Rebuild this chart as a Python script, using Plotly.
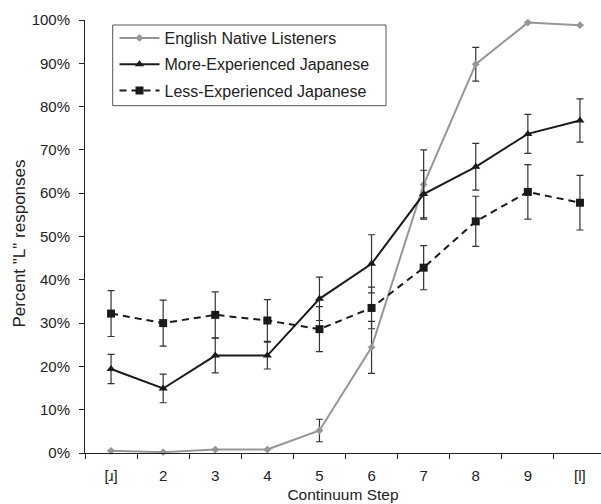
import plotly.graph_objects as go

steps = ["[ɹ]", "2", "3", "4", "5", "6", "7", "8", "9", "[l]"]

english = [0.5, 0.2, 0.8, 0.8, 5.2, 24.4, 62.0, 89.8, 99.4, 98.8]
english_err = [0, 0, 0, 0, 2.6, 6.0, 8.0, 3.9, 0, 0]

more_exp = [19.4, 14.9, 22.5, 22.5, 35.6, 43.7, 59.8, 66.1, 73.7, 76.8]
more_err = [3.4, 3.3, 4.0, 3.1, 5.0, 6.7, 5.5, 5.4, 4.5, 5.0]

less_exp = [32.2, 30.0, 31.9, 30.6, 28.6, 33.5, 42.8, 53.5, 60.3, 57.8]
less_err = [5.3, 5.3, 5.3, 4.8, 5.2, 4.8, 5.1, 5.8, 6.3, 6.3]

font_family = "Liberation Sans, Arial, sans-serif"

W, H = 601, 504
ML, MT, MB = 85, 20, 51
PW = W - ML
PH = H - MT - MB
STEP_PX = 52.1


def px_x(p):
    return (p - ML) / PW


def px_y(p):
    return (H - MB - p) / PH


xpos = list(range(len(steps)))

fig = go.Figure()


def add(name, vals, errs, color, symbol, msize, dash):
    fig.add_trace(go.Scatter(
        x=xpos, y=[v / 100 for v in vals], name=name, mode="lines+markers",
        legendgroup=name,
        line=dict(color=color, width=2, dash=dash),
        marker=dict(color=color, symbol=symbol, size=msize),
        error_y=dict(type="data", array=[e / 100 for e in errs], visible=True,
                     color="#333333", thickness=1.2, width=3.5),
        cliponaxis=False,
    ))


add("English Native Listeners", english, english_err, "#969696", "diamond", 6, "solid")
add("More-Experienced Japanese", more_exp, more_err, "#1a1a1a", "triangle-up", 8, "solid")
add("Less-Experienced Japanese", less_exp, less_err, "#1a1a1a", "square", 8, "7px,5px")

boundaries = [i - 0.5 for i in range(len(steps) + 1)]

# legend frame
fig.add_shape(type="rect", xref="paper", yref="paper",
              x0=px_x(112.7), x1=px_x(386), y0=px_y(105.7), y1=px_y(25),
              line=dict(color="#555555", width=1), fillcolor="white", layer="below")

# y-axis title
fig.add_annotation(text='Percent "L" responses', xref="paper", yref="paper",
                   x=px_x(18.5), y=px_y(244), xanchor="center", yanchor="middle",
                   textangle=-90, showarrow=False, font=dict(size=17))

fig.update_layout(
    width=W, height=H,
    margin=dict(l=ML, r=0, t=MT, b=MB),
    plot_bgcolor="white", paper_bgcolor="white",
    font=dict(family=font_family, size=15, color="#222222"),
    showlegend=True,
    legend=dict(x=px_x(114.5), y=px_y(21), xanchor="left", yanchor="top",
                borderwidth=0, bgcolor="rgba(0,0,0,0)",
                font=dict(size=16), itemwidth=40, traceorder="grouped",
                tracegroupgap=2.5),
    xaxis=dict(
        range=[-0.5, -0.5 + PW / STEP_PX],
        tickvals=xpos, ticktext=steps,
        showline=True, linecolor="#222222", linewidth=1,
        ticks="outside", ticklen=5, tickcolor="rgba(0,0,0,0)",
        ticklabelstandoff=4,
        minor=dict(tickvals=boundaries, ticks="outside", ticklen=5,
                   tickcolor="#222222", showgrid=False),
        showgrid=False, zeroline=False, automargin=False,
        title=dict(text="Continuum Step", font=dict(size=15.5), standoff=6),
    ),
    yaxis=dict(
        range=[0, 1], tickformat=".0%", dtick=0.1,
        showline=True, linecolor="#222222", linewidth=1,
        ticks="outside", ticklen=5, tickcolor="#222222",
        ticklabelstandoff=6,
        showgrid=False, zeroline=False, automargin=False,
    ),
)

fig.write_html("out.html", config={"displayModeBar": False},
               post_script="document.body.style.margin='0';")
